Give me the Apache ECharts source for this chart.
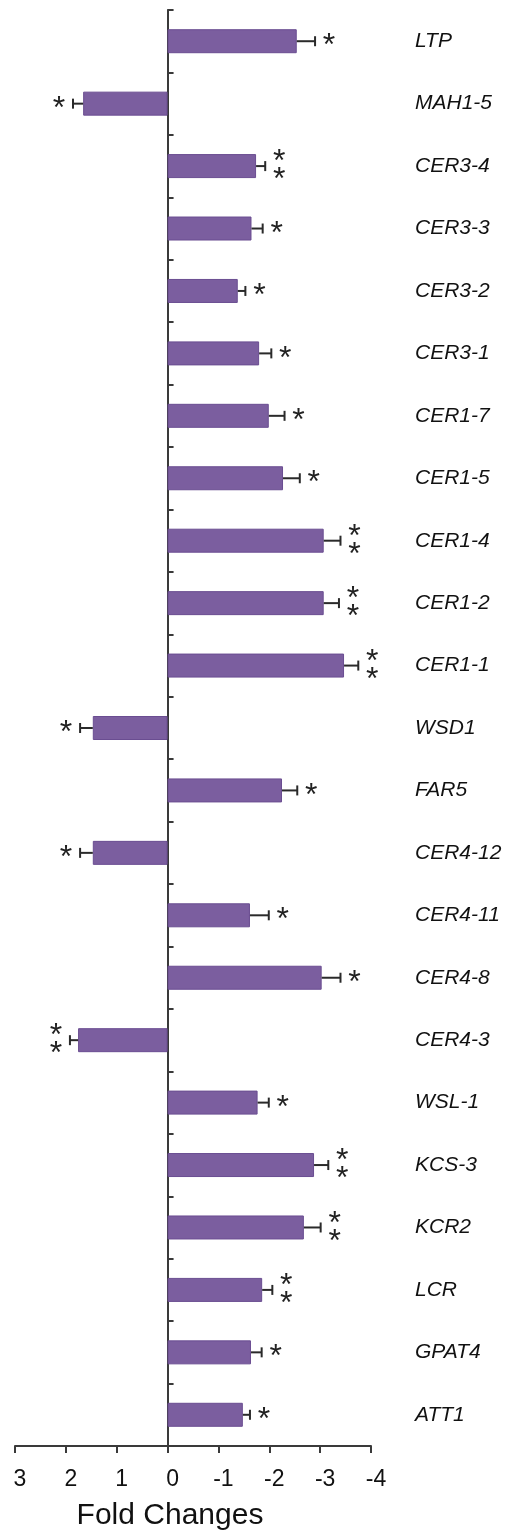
<!DOCTYPE html>
<html>
<head>
<meta charset="utf-8">
<script src="https://cdn.jsdelivr.net/npm/echarts@6/dist/echarts.min.js"></script>
<style>
  html, body { margin: 0; padding: 0; background: #fff; }
  #chart { width: 531px; height: 1536px; }
</style>
</head>
<body>
<div id="chart"></div>
<script>
// Genes, top to bottom
const categories = ['LTP', 'MAH1-5', 'CER3-4', 'CER3-3', 'CER3-2', 'CER3-1', 'CER1-7', 'CER1-5',
  'CER1-4', 'CER1-2', 'CER1-1', 'WSD1', 'FAR5', 'CER4-12', 'CER4-11', 'CER4-8', 'CER4-3',
  'WSL-1', 'KCS-3', 'KCR2', 'LCR', 'GPAT4', 'ATT1'];
// Fold change per gene
const foldChanges = [-2.54, 1.66, -1.74, -1.65, -1.38, -1.80, -1.99, -2.27,
  -3.07, -3.07, -3.47, 1.47, -2.25, 1.47, -1.62, -3.03, 1.76,
  -1.77, -2.88, -2.68, -1.86, -1.64, -1.48];
// Standard error per gene
const errors = [0.36, 0.20, 0.18, 0.22, 0.15, 0.24, 0.31, 0.33,
  0.33, 0.30, 0.28, 0.25, 0.30, 0.25, 0.37, 0.37, 0.16,
  0.22, 0.28, 0.33, 0.20, 0.21, 0.14];
// Number of asterisks shown (1 = *, 2 = **)
const significance = [1, 1, 2, 1, 1, 1, 1, 1,
  2, 2, 2, 1, 1, 1, 1, 1, 2,
  1, 2, 2, 2, 1, 1];
// Fold-change axis range
const xMin = -4;
const xMax = 3;
const xStep = 1;

const AXIS_COLOR = '#3a3a3a';
const BAR_COLOR = '#7b5e9f';
const FONT = '"Liberation Sans", Arial, sans-serif';

const chart = echarts.init(document.getElementById('chart'), null, { renderer: 'canvas' });

// Error bar with end cap, followed by the significance asterisks
function renderErrorStar(params, api) {
  const v = api.value(0);
  const idx = api.value(1);
  const err = api.value(2);
  const sig = api.value(3);
  const end = v + Math.sign(v) * err;
  const p0 = api.coord([v, idx]);
  const p1 = api.coord([end, idx]);
  const dir = p1[0] >= p0[0] ? 1 : -1;
  const cap = 5;
  const lineStyle = { stroke: '#2a2a2a', lineWidth: 2 };
  const children = [
    { type: 'line', shape: { x1: p0[0], y1: p0[1], x2: p1[0], y2: p1[1] }, style: lineStyle },
    { type: 'line', shape: { x1: p1[0], y1: p1[1] - cap, x2: p1[0], y2: p1[1] + cap }, style: lineStyle }
  ];
  const sx = p1[0] + dir * 14;
  const offsets = sig === 2 ? [-12, 6] : [-3];
  const starSize = 32;
  offsets.forEach(function (o) {
    children.push({
      type: 'text',
      x: sx,
      y: p1[1] + o + starSize * 0.26,
      style: {
        text: '*',
        fill: '#222',
        font: starSize + 'px ' + FONT,
        align: 'center',
        verticalAlign: 'middle'
      }
    });
  });
  return { type: 'group', children: children };
}

const option = {
  animation: false,
  backgroundColor: '#ffffff',
  grid: { left: 15, right: 160, top: 10, bottom: 86, containLabel: false },
  xAxis: {
    type: 'value',
    min: xMin,
    max: xMax,
    interval: xStep,
    inverse: true,
    name: 'Fold Changes',
    nameLocation: 'middle',
    nameGap: 55,
    nameTextStyle: { fontSize: 30, color: '#111', fontFamily: FONT, padding: [0, 46, 0, 0] },
    axisLine: { show: true, lineStyle: { color: AXIS_COLOR, width: 2 } },
    axisTick: { show: true, length: 7, lineStyle: { color: AXIS_COLOR, width: 2 } },
    axisLabel: { fontSize: 23, color: '#111', fontFamily: FONT, margin: 22, padding: [0, 0, 0, 10] },
    splitLine: { show: false }
  },
  yAxis: [
    {
      type: 'category',
      data: categories,
      inverse: true,
      axisLine: { show: true, onZero: true, lineStyle: { color: AXIS_COLOR, width: 2 } },
      axisTick: { show: true, inside: true, length: 6, lineStyle: { color: AXIS_COLOR, width: 2 } },
      axisLabel: { show: false },
      splitLine: { show: false }
    },
    {
      type: 'category',
      data: categories,
      inverse: true,
      position: 'right',
      axisLine: { show: false },
      axisTick: { show: false },
      axisLabel: {
        show: true,
        margin: 44,
        align: 'left',
        fontSize: 21,
        fontStyle: 'italic',
        color: '#111',
        fontFamily: FONT
      },
      splitLine: { show: false }
    }
  ],
  series: [
    {
      type: 'bar',
      data: foldChanges,
      barWidth: 24,
      itemStyle: { color: BAR_COLOR, borderColor: '#6a4d91', borderWidth: 1 },
      z: 2
    },
    {
      type: 'custom',
      renderItem: renderErrorStar,
      encode: { x: 0, y: 1 },
      data: categories.map(function (c, i) {
        return [foldChanges[i], i, errors[i], significance[i]];
      }),
      z: 3
    }
  ]
};

chart.setOption(option);
</script>
</body>
</html>
